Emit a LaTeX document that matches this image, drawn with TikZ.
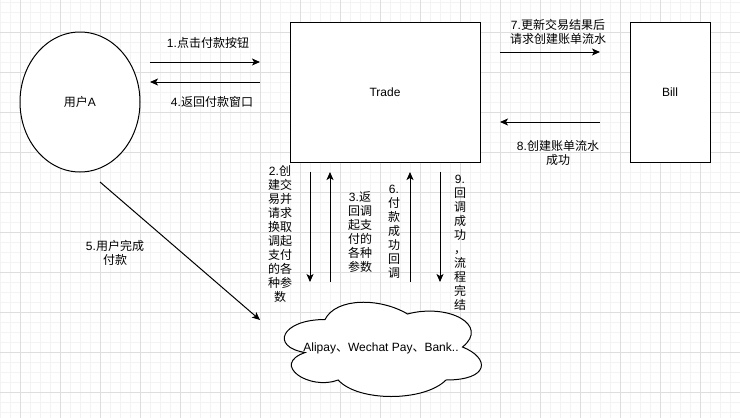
\documentclass[tikz,border=0pt]{standalone}
\usepackage{fontspec}
\usepackage{xcolor}
\setmainfont{Liberation Sans}
\newfontfamily\cjk{Noto Sans CJK SC}
\usetikzlibrary{shapes.geometric,arrows.meta}
\definecolor{gridmajor}{HTML}{DEDEDE}
\definecolor{gridminor}{HTML}{F3F3F3}
\newcommand\lat[1]{{\normalfont #1}}

\begin{document}
\begin{tikzpicture}[x=1pt,y=-1pt,
    txt/.style={font=\fontsize{12}{14}\selectfont,align=center,inner sep=0pt},
    zh/.style={font=\fontsize{12}{14}\selectfont\cjk,align=center,inner sep=0pt},
    box/.style={draw,fill=white,line width=1pt,inner sep=0pt},
    flow/.style={line width=1pt,-{Stealth[length=8pt,width=7pt,inset=2pt]}}]
    \useasboundingbox (0,0) rectangle (740,418);
    \fill[white] (0,0) rectangle (740,418);
    % grid
    \foreach \x in {0,10,...,740} \draw[gridminor] (\x,0) -- (\x,418);
    \foreach \y in {2,12,...,412} \draw[gridminor] (0,\y) -- (740,\y);
    \foreach \x in {20,60,...,740} \draw[gridmajor] (\x,0) -- (\x,418);
    \foreach \y in {32,72,...,392} \draw[gridmajor] (0,\y) -- (740,\y);

    \node[box,ellipse,minimum width=120pt,minimum height=140pt,font=\fontsize{12}{14}\selectfont] (userA) at (80,102) {{\cjk 用户}A};
    \node[box,minimum width=190pt,minimum height=140pt,font=\fontsize{12}{14}\selectfont] (trade) at (385,92) {Trade};
    \node[box,minimum width=80pt,minimum height=140pt,font=\fontsize{12}{14}\selectfont] (bill) at (670,92) {Bill};

    % cloud
    \begin{scope}[shift={(270,292)},x=220pt,y=-110pt]
        \draw[fill=white,line width=1pt] (0.25,0.25) .. controls (0.05,0.25) and (0,0.5) .. (0.16,0.55)
            .. controls (0,0.66) and (0.18,0.9) .. (0.31,0.8)
            .. controls (0.4,1) and (0.7,1) .. (0.8,0.8)
            .. controls (1,0.8) and (1,0.6) .. (0.875,0.5)
            .. controls (1,0.3) and (0.81,0.1) .. (0.625,0.2)
            .. controls (0.5,0.05) and (0.3,0.05) .. (0.25,0.25) -- cycle;
    \end{scope}
    \node[txt] (pay) at (381,348) {Alipay{\cjk 、}Wechat Pay{\cjk 、}Bank..};

    \coordinate (a1s) at (150,62);  \coordinate (a1e) at (260,62);
    \coordinate (a4s) at (260,82);  \coordinate (a4e) at (150,82);
    \coordinate (a7s) at (500,52);  \coordinate (a7e) at (600,52);
    \coordinate (a8s) at (600,122); \coordinate (a8e) at (500,122);
    \coordinate (a2s) at (310,172); \coordinate (a2e) at (310,282);
    \coordinate (a3s) at (330,282); \coordinate (a3e) at (330,172);
    \coordinate (a6s) at (410,282); \coordinate (a6e) at (410,172);
    \coordinate (a9s) at (440,172); \coordinate (a9e) at (440,282);
    \coordinate (a5s) at (100,182); \coordinate (a5e) at (260,320);

    \draw[flow] (a1s) -- (a1e);
    \draw[flow] (a4s) -- (a4e);
    \draw[flow] (a7s) -- (a7e);
    \draw[flow] (a8s) -- (a8e);
    \draw[flow] (a2s) -- (a2e);
    \draw[flow] (a3s) -- (a3e);
    \draw[flow] (a6s) -- (a6e);
    \draw[flow] (a9s) -- (a9e);
    \draw[flow] (a5s) -- (a5e);

    \node[zh] (l1) at (208,43) {\lat{1.}点击付款按钮};
    \node[zh] (l4) at (212,102) {\lat{4.}返回付款窗口};
    \node[zh] (l7) at (558,32) {\lat{7.}更新交易结果后\\请求创建账单流水};
    \node[zh] (l8) at (558,153) {\lat{8.}创建账单流水\\成功};
    \node[zh] (l5) at (115,253) {\lat{5.}用户完成\\付款};
    \node[zh] (l2) at (280,234) {\lat{2.}创\\建交\\易并\\请求\\换取\\调起\\支付\\的各\\种参\\数};
    \node[zh] (l3) at (360,232) {\lat{3.}返\\回调\\起支\\付的\\各种\\参数};
    \node[zh] (l6) at (394,232) {\lat{6.}\\付\\款\\成\\功\\回\\调};
    \node[zh] (l9) at (460,242.5) {\lat{9.}\\回\\调\\成\\功\\，\\流\\程\\完\\结};
\end{tikzpicture}
\end{document}
